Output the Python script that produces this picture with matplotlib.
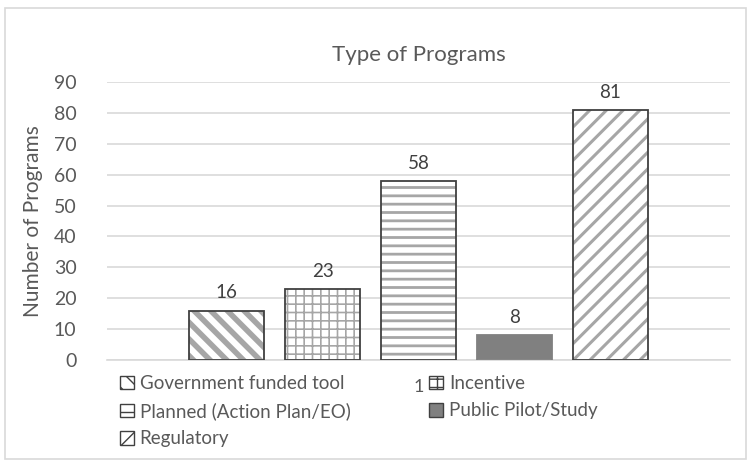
import matplotlib.pyplot as plt
from matplotlib.patches import Rectangle

# data
series_names = [
    "Government funded tool",
    "Incentive",
    "Planned (Action Plan/EO)",
    "Public Pilot/Study",
    "Regulatory",
]
category_labels = ["1"]
counts = [16, 23, 58, 8, 81]

hatches = ["\\\\", "++", "--", "", "//"]
faces = ["white", "white", "white", "#808080", "white"]
hatch_lw = [4.0, 1.2, 2.0, 1.0, 2.2]
text_gray = "#595959"

plt.rcParams["font.family"] = ["Lato", "DejaVu Sans"]

fig = plt.figure(figsize=(7.5, 4.61), dpi=100)
ax = fig.add_axes([0.1427, 0.219, 0.9733 - 0.1427, 0.822 - 0.219])

step = 0.154
width = 0.12
handles = []
for i, (name, val) in enumerate(zip(series_names, counts)):
    x = (i - 2) * step
    hatched = ax.bar(x, val, width=width, color=faces[i], edgecolor="#a6a6a6",
                     hatch=hatches[i], linewidth=0, zorder=2)
    for p in hatched:
        if hasattr(p, "set_hatch_linewidth"):
            p.set_hatch_linewidth(hatch_lw[i])
    edge = "#404040" if name != "Public Pilot/Study" else "#808080"
    ax.bar(x, val, width=width, facecolor="none", edgecolor=edge,
           linewidth=1.3, zorder=3)
    ax.text(x, val + 3, str(val), ha="center", va="bottom",
            fontsize=13.5, color="#404040")
    h = Rectangle((0, 0), 1, 1, facecolor=faces[i], edgecolor="#404040",
                  hatch=hatches[i], linewidth=1.0, label=name)
    handles.append(h)

ax.set_xlim(-0.5, 0.5)
ax.set_ylim(0, 90)
ax.set_yticks(range(0, 91, 10))
ax.set_xticks([0])
ax.set_xticklabels(category_labels)
ax.tick_params(axis="x", length=0, pad=14, labelsize=13, labelcolor=text_gray)
ax.tick_params(axis="y", length=0, pad=22, labelsize=14, labelcolor=text_gray)
ax.grid(axis="y", color="#d9d9d9", linewidth=1.2, zorder=0)
for s in ["left", "right", "top"]:
    ax.spines[s].set_visible(False)
ax.spines["bottom"].set_color("#d9d9d9")
ax.spines["bottom"].set_linewidth(1.2)
ax.set_ylabel("Number of Programs", fontsize=15, color=text_gray, labelpad=8)
ax.set_title("Type of Programs", fontsize=16, color=text_gray, pad=15)

order = [0, 2, 4, 1, 3]
fig.legend([handles[k] for k in order], [series_names[k] for k in order],
           loc="upper left", bbox_to_anchor=(0.150, 0.203), ncol=2,
           frameon=False, fontsize=13.5, labelcolor=text_gray,
           handlelength=0.75, handleheight=0.75, handletextpad=0.3,
           columnspacing=4.2, labelspacing=0.55, borderaxespad=0)

# light chart-area border
fig.patches.append(Rectangle((5 / 750, 0.005), 0.988, 1 - 8 / 461 - 0.005,
                             transform=fig.transFigure, fill=False,
                             edgecolor="#d9d9d9", linewidth=1.2))

fig.savefig("out.png", dpi=100)
